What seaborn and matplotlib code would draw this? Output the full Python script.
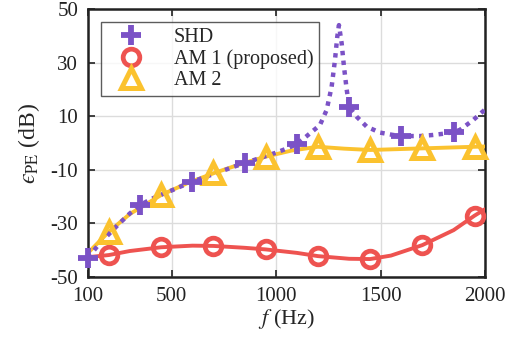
"""
Position error vs frequency for SHD and the two AM methods.
"""

import numpy as np
import pandas as pd
import seaborn as sns
import matplotlib
matplotlib.use('Agg')
import matplotlib.pyplot as plt
from matplotlib.lines import Line2D

# Curves
shd_freq = [100, 150, 200, 250, 300, 350, 400, 450, 500, 550, 600, 650, 700, 750,
            800, 850, 900, 950, 1000, 1050, 1100, 1150, 1210, 1242, 1266, 1282,
            1293, 1301, 1314, 1325, 1338, 1350, 1386, 1434, 1497, 1560, 1625,
            1689, 1751, 1816, 1850, 1880, 1944, 2000]
shd_err = [-42.8, -38.0, -34.0, -30.0, -26.3, -23.1, -21.0, -19.3, -17.7, -16.0,
           -14.4, -13.0, -11.6, -10.2, -8.8, -7.5, -6.2, -4.9, -3.6, -2.1, -0.4,
           2.8, 6.7, 12.3, 21.0, 31.0, 39.7, 44.0, 37.2, 28.5, 20.0, 13.4, 9.8,
           6.1, 3.9, 3.0, 2.6, 2.6, 3.0, 3.6, 4.1, 4.9, 8.6, 12.5]

am1_freq = [100, 200, 300, 450, 600, 700, 850, 950, 1100, 1200, 1350, 1450,
            1550, 1700, 1850, 1950, 2000]
am1_err = [-42.6, -41.8, -40.3, -38.9, -38.3, -38.4, -39.1, -39.7, -41.0, -42.2,
           -43.2, -43.3, -42.0, -38.1, -32.5, -27.1, -24.7]

am2_freq = [100, 200, 300, 450, 575, 700, 825, 950, 1075, 1200, 1325, 1450,
            1575, 1700, 1825, 1950, 2000]
am2_err = [-41.0, -33.1, -26.5, -19.4, -15.0, -11.3, -8.0, -5.1, -2.8, -1.4,
           -2.1, -2.6, -2.3, -2.0, -1.7, -1.4, -1.3]

# Marker positions
shd_mark_freq = [100, 350, 600, 850, 1100, 1350, 1600, 1850]
shd_mark_err = [-42.8, -23.1, -14.4, -7.5, -0.4, 13.4, 2.8, 4.1]
am_mark_freq = [200, 450, 700, 950, 1200, 1450, 1700, 1950]
am1_mark_err = [-41.8, -38.9, -38.4, -39.7, -42.2, -43.3, -38.1, -27.1]
am2_mark_err = [-33.1, -19.4, -11.3, -5.1, -1.4, -2.6, -2.0, -1.4]

x_ticks = [100, 500, 1000, 1500, 2000]
y_ticks = [-50, -30, -10, 10, 30, 50]

PURPLE = '#7b52c6'
RED = '#ee5350'
YELLOW = '#fbc22e'

sns.set_style('ticks')
plt.rcParams['font.family'] = ['Liberation Serif', 'DejaVu Serif']
plt.rcParams['mathtext.fontset'] = 'stix'
plt.rcParams['axes.unicode_minus'] = False

fig = plt.figure(figsize=(5.07, 3.47), dpi=100)
ax = fig.add_axes([0.1736, 0.2017, 0.783, 0.7723])

shd = pd.DataFrame({'f': shd_freq, 'e': shd_err})
am1 = pd.DataFrame({'f': am1_freq, 'e': am1_err})
am2 = pd.DataFrame({'f': am2_freq, 'e': am2_err})

sns.lineplot(data=am1, x='f', y='e', ax=ax, color=RED, lw=2.8, zorder=3)
sns.lineplot(data=am2, x='f', y='e', ax=ax, color=YELLOW, lw=2.8, zorder=4)
sns.lineplot(data=shd, x='f', y='e', ax=ax, color=PURPLE, lw=3.2, zorder=5,
             linestyle=(0, (1, 1.2)))

ax.plot(am_mark_freq, am1_mark_err, 'o', ms=12, mfc='none', mec=RED, mew=3.4,
        zorder=6, clip_on=False)
ax.plot(am_mark_freq, am2_mark_err, '^', ms=15, mfc='none', mec=YELLOW, mew=3.6,
        zorder=7, clip_on=False)
ax.plot(shd_mark_freq, shd_mark_err, '+', ms=15, mew=4.2, color=PURPLE,
        zorder=8, clip_on=False)

ax.set_xlim(100, 2000)
ax.set_ylim(-50, 50)
ax.set_xticks(x_ticks)
ax.set_yticks(y_ticks)
ax.grid(True, color='#dcdcdc', lw=1.0)
ax.tick_params(direction='in', length=5, width=1.2, top=True, right=True,
               labelsize=15, pad=7, colors='#222222')
for s in ax.spines.values():
    s.set_linewidth(1.8)
    s.set_color('#222222')
    s.set_visible(True)

ax.set_xlabel(r'$f$ (Hz)', fontsize=16, labelpad=1)
ax.set_ylabel('$\u03f5_{\\mathrm{PE}}$ (dB)', fontsize=17, labelpad=6)

handles = [
    Line2D([], [], ls='none', marker='+', ms=15, mew=4.2, color=PURPLE),
    Line2D([], [], ls='none', marker='o', ms=12, mfc='none', mec=RED, mew=3.4),
    Line2D([], [], ls='none', marker='^', ms=15, mfc='none', mec=YELLOW, mew=3.6),
]
leg = ax.legend(handles, ['SHD', 'AM 1 (proposed)', 'AM 2'], loc='upper left',
                bbox_to_anchor=(0.033, 0.951), borderaxespad=0, fontsize=14.5,
                frameon=True, fancybox=False, edgecolor='#333333',
                handlelength=2.4, labelspacing=0.1, handletextpad=0.9,
                borderpad=0.3)
leg.get_frame().set_linewidth(1.0)
leg.set_zorder(10)

plt.savefig('out.png', dpi=100)
plt.close()
